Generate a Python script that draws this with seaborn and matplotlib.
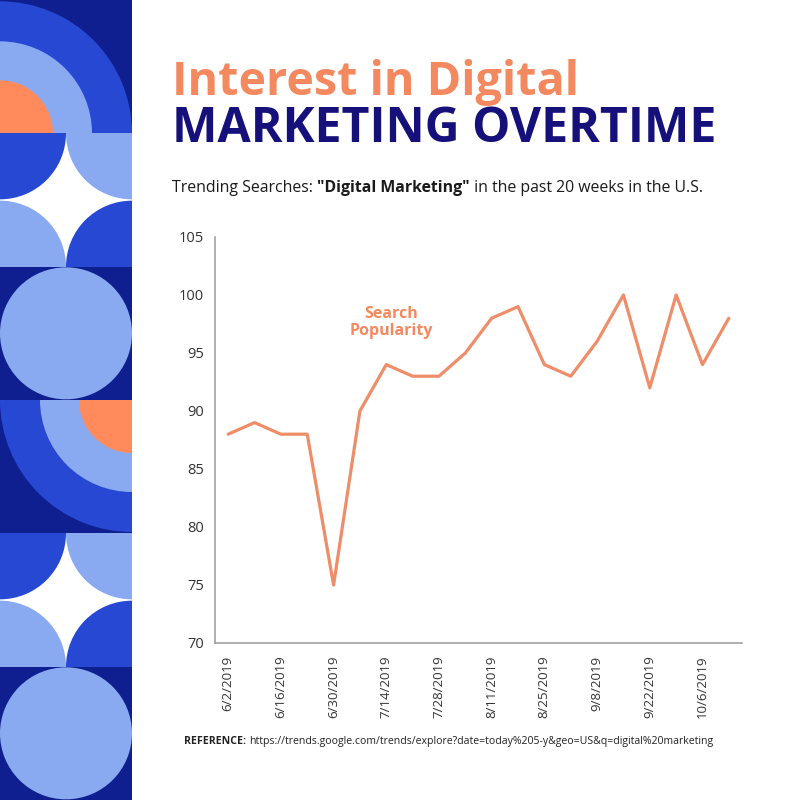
import matplotlib
matplotlib.use("Agg")
import matplotlib.pyplot as plt
import seaborn as sns
import pandas as pd
from matplotlib.patches import Rectangle, Wedge, Circle

# ---------------- data ----------------
weeks = ["6/2/2019", "6/9/2019", "6/16/2019", "6/23/2019", "6/30/2019", "7/7/2019",
         "7/14/2019", "7/21/2019", "7/28/2019", "8/4/2019", "8/11/2019", "8/18/2019",
         "8/25/2019", "9/1/2019", "9/8/2019", "9/15/2019", "9/22/2019", "9/29/2019",
         "10/6/2019", "10/13/2019"]
popularity = [88, 89, 88, 88, 75, 90, 94, 93, 93, 95, 98, 99, 94, 93, 96, 100, 92, 100, 94, 98]
y_ticks = [70, 75, 80, 85, 90, 95, 100, 105]

title1 = "Interest in Digital"
title2 = "MARKETING OVERTIME"
series_label = "Search\nPopularity"
sub_a = "Trending Searches: "
sub_b = "\"Digital Marketing\""
sub_c = " in the past 20 weeks in the U.S."
ref_a = "REFERENCE: "
ref_b = "https://trends.google.com/trends/explore?date=today%205-y&geo=US&q=digital%20marketing"

ORANGE = "#f4895f"
LINE = "#ef8d68"
NAVY = "#16117a"
DARK = "#0f1f8f"
MID = "#2748d2"
LIGHT = "#89a9f1"
TILE_OR = "#ff8a5c"

sns.set_theme(style="white")
FONT = ["Open Sans", "DejaVu Sans"]
plt.rcParams["font.family"] = FONT

W, H = 800, 800
fig = plt.figure(figsize=(8, 8), dpi=100)
fig.patch.set_facecolor("white")

# ---------------- decorative left panel ----------------
pan = fig.add_axes([0, 0, 132 / W, 1])
pan.set_xlim(0, 132)
pan.set_ylim(800, 0)
pan.axis("off")
tw = 132
th = 800 / 6


def rings_tile(y0, corner):
    pan.add_patch(Rectangle((0, y0), tw, th, color=DARK, lw=0))
    if corner == "bl":
        cx, cy, t1, t2 = 0, y0 + th, 270, 360
    else:
        cx, cy, t1, t2 = tw, y0, 90, 180
    # inverted y axis: angles flip, so use full circles clipped to tile
    for r, c in [(132, MID), (92, LIGHT), (53, TILE_OR)]:
        p = Circle((cx, cy), r, color=c, lw=0)
        pan.add_patch(p)
        p.set_clip_path(Rectangle((0, y0), tw, th, transform=pan.transData))


def star_tile(y0):
    pan.add_patch(Rectangle((0, y0), tw, th, color="white", lw=0))
    r = 66
    for (cx, cy, c) in [(0, y0, MID), (tw, y0, LIGHT), (0, y0 + th, LIGHT), (tw, y0 + th, MID)]:
        p = Circle((cx, cy), r, color=c, lw=0)
        pan.add_patch(p)
        p.set_clip_path(Rectangle((0, y0), tw, th, transform=pan.transData))


def circle_tile(y0):
    pan.add_patch(Rectangle((0, y0), tw, th, color=DARK, lw=0))
    pan.add_patch(Circle((tw / 2, y0 + th / 2), 66, color=LIGHT, lw=0))


rings_tile(0, "bl")
star_tile(th)
circle_tile(2 * th)
rings_tile(3 * th, "tr")
star_tile(4 * th)
circle_tile(5 * th)

# ---------------- text helpers ----------------
renderer = fig.canvas.get_renderer()


def fit_text(x_px, y_px, s, width_px, **kw):
    t = fig.text(x_px / W, 1 - y_px / H, s, ha="left", va="baseline", **kw)
    bb = t.get_window_extent(renderer=renderer)
    t.set_fontsize(t.get_fontsize() * width_px / bb.width)
    return t


def seq_text(x_px, y_px, parts, total_width, size, color):
    # parts: list of (string, weight)
    texts = []
    x = x_px
    for s, wgt in parts:
        t = fig.text(x / W, 1 - y_px / H, s, ha="left", va="baseline",
                     fontsize=size, fontweight=wgt, color=color)
        texts.append(t)
        x += t.get_window_extent(renderer=renderer).width
    scale = total_width / (x - x_px)
    x = x_px
    for t in texts:
        t.set_fontsize(size * scale)
        t.set_x(x / W)
        x += t.get_window_extent(renderer=renderer).width
    return texts


fit_text(172, 95, title1, 406, fontsize=36, fontweight="bold", color=ORANGE)
fit_text(172, 142, title2, 544, fontsize=36, fontweight="bold", color=NAVY)
seq_text(172, 192, [(sub_a, "normal"), (sub_b, "bold"), (sub_c, "normal")], 535, 11, "#1a1a1a")
seq_text(184, 744, [(ref_a, "bold"), (ref_b, "normal")], 535, 7, "#222222")

# ---------------- chart ----------------
ax = fig.add_axes([215 / W, 1 - 643 / H, 527 / W, 406 / H])
df = pd.DataFrame({"week": range(len(weeks)), "popularity": popularity})
sns.lineplot(data=df, x="week", y="popularity", ax=ax, color=LINE, linewidth=2.3)
ax.set_xlim(-0.5, len(weeks) - 0.5)
ax.set_ylim(70, 105)
ax.set_yticks(y_ticks)
ax.set_yticklabels([str(v) for v in y_ticks], fontsize=10.5, color="#333333")
tick_idx = list(range(0, len(weeks), 2))
ax.set_xticks(tick_idx)
ax.set_xticklabels([weeks[i] for i in tick_idx], rotation=90, fontsize=9.5, color="#333333")
ax.tick_params(axis="both", length=0, pad=8)
ax.tick_params(axis="x", pad=9)
ax.set_xlabel("")
ax.set_ylabel("")
for side in ["top", "right"]:
    ax.spines[side].set_visible(False)
for side in ["left", "bottom"]:
    ax.spines[side].set_color("#9a9a9a")
    ax.spines[side].set_linewidth(1.1)
ax.grid(False)
ax.set_facecolor("white")

ax.text(6.2, 97.6, series_label, ha="center", va="center", fontsize=11.5,
        fontweight="bold", color=ORANGE, linespacing=1.1)

fig.savefig("out.png", dpi=100, facecolor="white")
